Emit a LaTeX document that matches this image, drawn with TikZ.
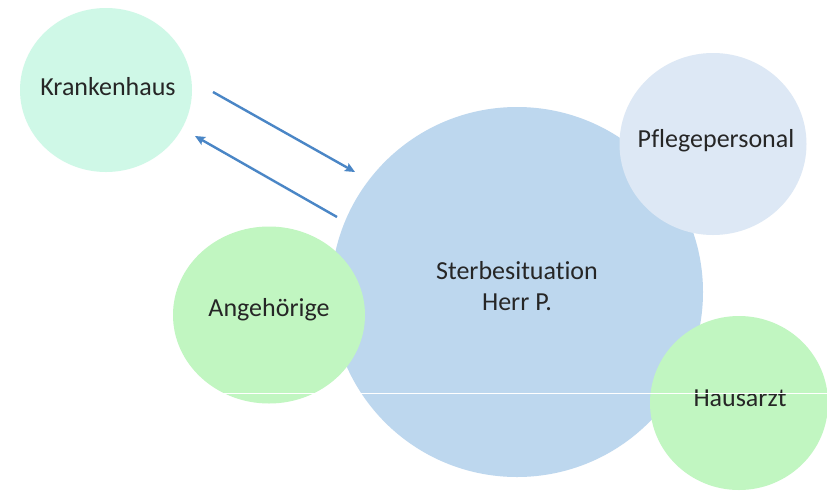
\documentclass[tikz,border=0pt]{standalone}
\usepackage{fontspec}
\setmainfont{Carlito}[Ligatures=NoCommon]
\usetikzlibrary{shapes.geometric,arrows.meta}
\definecolor{mint}{HTML}{CFF8E7}
\definecolor{lgreen}{HTML}{C1F6C1}
\definecolor{mainblue}{HTML}{BDD7EE}
\definecolor{paleblue}{HTML}{DDE8F5}
\definecolor{arrowblue}{HTML}{4A86C6}
\tikzset{
  bubble/.style={ellipse, draw=none, inner sep=0pt, outer sep=0pt},
  label text/.style={inner sep=0pt, font=\fontsize{26}{31}\selectfont, text=black!85, align=center},
  flow/.style={draw=arrowblue, line width=2.4pt, -{Stealth[length=10pt,width=9pt,inset=2pt]}}
}
\begin{document}
\begin{tikzpicture}[x=1pt,y=-1pt]
\useasboundingbox (0,0) rectangle (827,491);
\fill[white] (0,0) rectangle (827,491);
\node[bubble, fill=mint, minimum width=172pt, minimum height=164pt] (kh) at (106,90) {};
\node[bubble, fill=mainblue, minimum width=372pt, minimum height=370pt] (main) at (517,292) {};
\node[bubble, fill=lgreen, minimum width=192pt, minimum height=177pt] (ang) at (269,315) {};
\node[bubble, fill=paleblue, minimum width=187pt, minimum height=182pt] (pfl) at (713,144) {};
\node[bubble, fill=lgreen, minimum width=178pt, minimum height=174pt] (arzt) at (739,403) {};
\node[label text] (khT) at (108,87) {Krankenhaus};
\node[label text] (mainT) at (517,286) {Sterbesituation\\Herr P.};
\node[label text] (angT) at (269,310) {Angehörige};
\node[label text] (pflT) at (716,141) {Pflegepersonal};
\node[label text] (arztT) at (740,398) {Hausarzt};
\coordinate (a1s) at (213,92);
\coordinate (a1e) at (355,172);
\coordinate (a2s) at (337,217);
\coordinate (a2e) at (195,136);
\draw[flow] (a1s) -- (a1e);
\draw[flow] (a2s) -- (a2e);
\coordinate (ls) at (185,393.5);
\coordinate (le) at (827,393.5);
\draw[white, line width=0.8pt] (ls) -- (le);
\end{tikzpicture}
\end{document}
